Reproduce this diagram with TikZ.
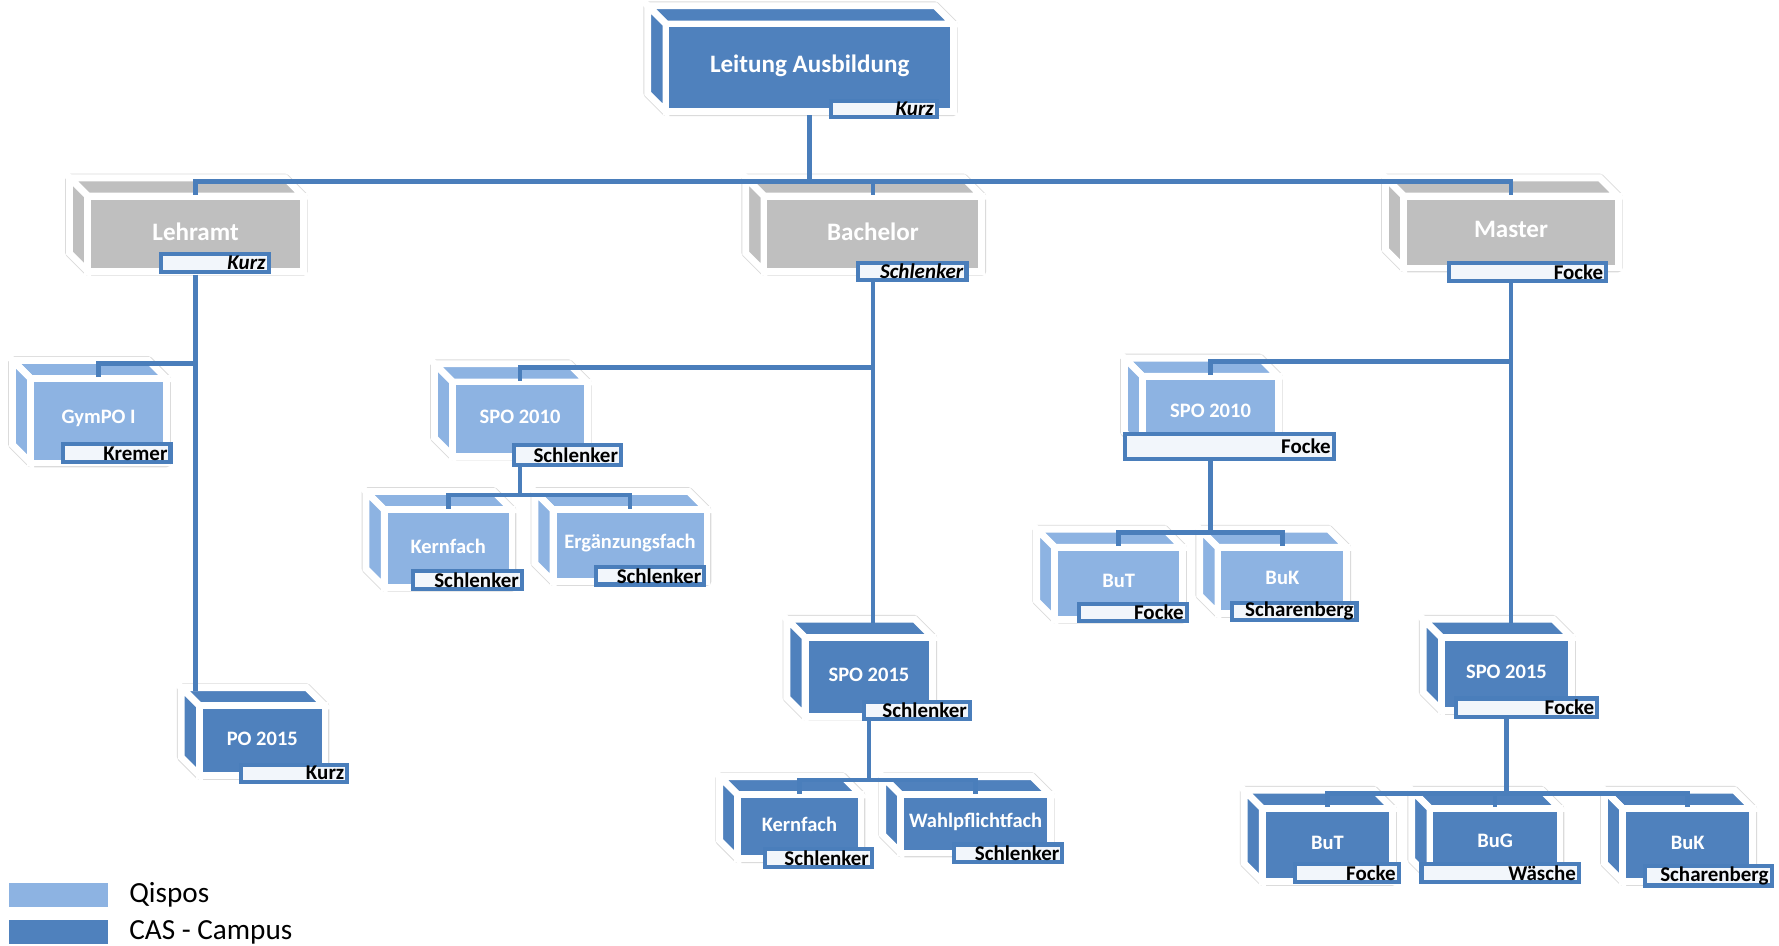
\documentclass[tikz,border=0pt]{standalone}
\usepackage{fontspec}
\setmainfont{Carlito}
\usetikzlibrary{calc}
\usetikzlibrary{fit}
\definecolor{cas}{RGB}{79,129,189}
\definecolor{qis}{RGB}{141,179,226}
\definecolor{grau}{RGB}{191,191,191}
\definecolor{linie}{RGB}{74,126,187}
\definecolor{zettel}{RGB}{242,246,251}
\pgfdeclarelayer{kisten}
\pgfdeclarelayer{schilder}
\pgfsetlayers{kisten,main,schilder}
\tikzset{
  face/.style={draw=white, line width=3pt, line join=miter},
  conn/.style={draw=linie, line width=2.1pt},
  lbl/.style={draw=linie, fill=zettel, line width=1.8pt, inner sep=0pt},
  lbltxt/.style={anchor=east, inner sep=2pt, font=\bfseries\fontsize{9.2}{10}\selectfont}
}

\begin{document}
\begin{tikzpicture}[x=0.5pt, y=-0.5pt]
\useasboundingbox (0,0) rectangle (1560,829);
\foreach \n/\xa/\ya/\xb/\yb/\c/\fs/\t in {
  lead/587/24/833/95/cas/11/Leitung Ausbildung,
  lehramt/80/175/263/235/grau/11/Lehramt,
  bachelor/673/175/858/235/grau/11/Bachelor,
  master/1234/175/1416/232/grau/11/Master,
  gympo/30/335/143/403/qis/9/GymPO I,
  po15/178/622/282/677/cas/9/PO 2015,
  bspoa/400/338/512/397/qis/9/SPO 2010,
  bkern/340/450/446/512/qis/9/Kernfach,
  berg/488/450/617/507/qis/9/Ergänzungsfach,
  bspob/709/562/815/625/cas/9/SPO 2015,
  bkernb/650/700/752/750/cas/9/Kernfach,
  bwahl/793/700/918/745/cas/9/Wahlpflichtfach,
  mspoa/1005/333/1118/392/qis/9/SPO 2010,
  mbut/928/483/1034/540/qis/9/BuT,
  mbuk/1071/483/1178/535/qis/9/BuK,
  mspob/1267/562/1375/620/cas/9/SPO 2015,
  mbutb/1110/712/1218/770/cas/9/BuT,
  mbug/1257/712/1365/767/cas/9/BuG,
  mbukb/1426/712/1534/770/cas/9/BuK} {
  \begin{pgfonlayer}{kisten}
    % glow
    \filldraw[fill=white, draw=black!14, line width=3.8pt, line join=round]
      (\xa-19,\ya-19) -- (\xb-13,\ya-19) -- (\xb+3,\ya-3) -- (\xb+3,\yb+3)
      -- (\xa-3,\yb+3) -- (\xa-19,\yb-13) -- cycle;
    \filldraw[face, fill=\c] (\xa-3,\ya-3) -- (\xa-19,\ya-19) -- (\xb-13,\ya-19) -- (\xb+3,\ya-3) -- cycle;
    \filldraw[face, fill=\c] (\xa-3,\ya-3) -- (\xa-19,\ya-19) -- (\xa-19,\yb-13) -- (\xa-3,\yb+3) -- cycle;
    \node[face, fill=\c, inner sep=0pt, fit={(\xa-3,\ya-3) (\xb+3,\yb+3)}] (\n) {};
    \node[text=white, font=\bfseries\fontsize{\fs}{\fs}\selectfont, yshift=1pt] at (\n.center) {\t};
  \end{pgfonlayer}
  \coordinate (\n-t) at ({(\xa+\xb)/2},\ya-16);
}
\foreach \n/\xa/\ya/\xb/\yb/\t in {
  lead/727/87/823/104/\textit{Kurz},
  lehramt/140/221/237/240/\textit{Kurz},
  bachelor/751/229/849/247/\textit{Schlenker},
  master/1269/229/1410/248/Focke,
  gympo/54/388/151/407/Kremer,
  po15/210/669/306/687/Kurz,
  bspoa/449/389/546/409/Schlenker,
  bkern/361/499/459/518/Schlenker,
  berg/521/496/619/514/Schlenker,
  bspob/756/614/852/632/Schlenker,
  bkernb/669/743/766/762/Schlenker,
  bwahl/835/739/933/757/Schlenker,
  mspoa/985/379/1171/404/Focke,
  mbut/945/528/1042/546/Focke,
  mbuk/1079/527/1191/545/Scharenberg,
  mspob/1275/611/1402/630/Focke,
  mbutb/1134/756/1228/775/Focke,
  mbug/1245/756/1386/775/Wäsche,
  mbukb/1441/758/1555/778/Scharenberg} {
  \begin{pgfonlayer}{schilder}
    \node[lbl, fit={(\xa+1.5,\ya+1.5) (\xb-1.5,\yb-1.5)}] (\n-l) {};
    \node[lbltxt] at (\n-l.east) {\t};
  \end{pgfonlayer}
}
% connectors
\foreach \k in {lehramt,bachelor,master}
  \draw[conn] (lead.south) |- (\k-t) -- ++(0,12);
\draw[conn] (lehramt.south) |- (gympo-t) -- ++(0,12);
\draw[conn] (lehramt.south) -- (lehramt.south |- po15-t);
\draw[conn] (bachelor.south) |- (bspoa-t) -- ++(0,12);
\draw[conn] (bachelor.south) -- (bachelor.south |- bspob-t);
\foreach \k in {bkern,berg}
  \draw[conn] (bspoa.south) |- (\k-t) -- ++(0,12);
\foreach \k in {bkernb,bwahl}
  \draw[conn] (bspob.south) |- (\k-t) -- ++(0,12);
\draw[conn] (master.south) |- (mspoa-t) -- ++(0,12);
\draw[conn] (master.south) -- (master.south |- mspob-t);
\foreach \k in {mbut,mbuk}
  \draw[conn] (mspoa.south) |- (\k-t) -- ++(0,12);
\foreach \k in {mbutb,mbug,mbukb}
  \draw[conn] (mspob.south) |- (\k-t) -- ++(0,12);
% legend
\fill[qis] (8,774) rectangle (95,795);
\fill[cas] (8,807) rectangle (95,828);
\node[anchor=west, inner sep=0pt, font=\fontsize{12.8}{14}\selectfont] (leg-qis) at (113,785) {Qispos};
\node[anchor=west, inner sep=0pt, font=\fontsize{12.8}{14}\selectfont] (leg-cas) at (113,818) {CAS - Campus};
\end{tikzpicture}
\end{document}
